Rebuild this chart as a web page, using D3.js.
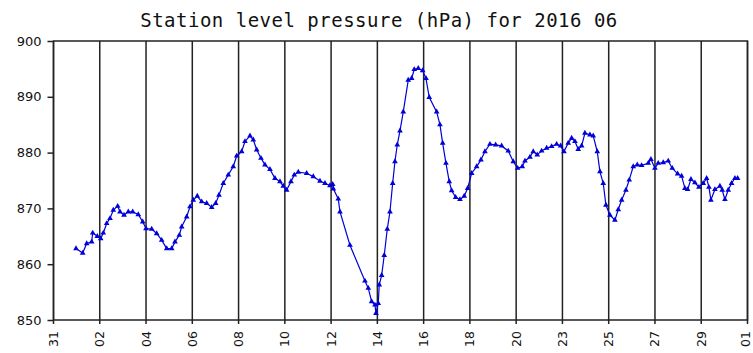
<!DOCTYPE html>
<html>
<head>
<meta charset="utf-8">
<script src="https://cdn.jsdelivr.net/npm/d3@7"></script>
<style>
  body { margin: 0; background: #fff; }
  svg { display: block; }
</style>
</head>
<body>
<svg id="chart" width="753" height="353"></svg>
<script>
// day of June (May 31 00:00 = 0), station pressure in hPa
const day = [1.305, 1.604, 1.783, 2.006, 2.051, 2.256, 2.408, 2.524, 2.676, 2.823, 2.971, 3.167, 3.270,
  3.449, 3.641, 3.837, 4.087, 4.284, 4.431, 4.686, 4.909, 5.133, 5.356, 5.579, 5.727, 5.919, 6.026,
  6.249, 6.397, 6.544, 6.723, 6.919, 7.142, 7.366, 7.544, 7.692, 7.884, 8.107, 8.330, 8.482, 8.705,
  8.853, 9.076, 9.224, 9.376, 9.568, 9.746, 9.969, 10.193, 10.416, 10.564, 10.715, 10.907, 11.055,
  11.233, 11.609, 11.903, 12.203, 12.426, 12.649, 12.770, 12.800, 13.020, 13.096, 13.543, 14.212,
  14.360, 14.512, 14.659, 14.704, 14.806, 14.851, 14.958, 15.074, 15.209, 15.329, 15.450, 15.552,
  15.655, 15.776, 15.923, 16.146, 16.298, 16.414, 16.593, 16.790, 16.937, 17.084, 17.415, 17.562,
  17.683, 17.830, 17.978, 18.085, 18.263, 18.455, 18.647, 18.799, 18.978, 19.201, 19.393, 19.572,
  19.795, 20.050, 20.318, 20.613, 20.836, 21.033, 21.238, 21.359, 21.582, 21.729, 21.908, 22.104,
  22.328, 22.551, 22.774, 22.953, 23.100, 23.292, 23.444, 23.592, 23.739, 23.891, 24.038, 24.262,
  24.409, 24.588, 24.708, 24.856, 24.976, 25.155, 25.378, 25.526, 25.678, 25.870, 26.017, 26.196,
  26.374, 26.571, 26.866, 26.986, 27.165, 27.312, 27.536, 27.759, 27.937, 28.179, 28.357, 28.505,
  28.626, 28.773, 28.951, 29.130, 29.322, 29.474, 29.576, 29.666, 29.844, 30.068, 30.170, 30.291,
  30.439, 30.590, 30.738, 30.859];
const hpa = [862.8, 862.0, 863.7, 864.0, 865.6, 865.0, 864.6, 865.6, 867.3, 868.2, 869.7, 870.4, 869.4,
  868.8, 869.4, 869.4, 868.9, 867.6, 866.4, 866.3, 865.5, 864.3, 862.8, 862.8, 864.0, 865.2, 866.7,
  868.5, 870.3, 871.5, 872.2, 871.2, 870.9, 870.2, 870.9, 872.4, 874.5, 876.0, 877.5, 879.4, 880.2,
  882.0, 883.0, 882.3, 880.5, 879.0, 877.8, 877.0, 875.4, 874.8, 874.0, 873.3, 874.8, 876.0,
  876.5, 876.3, 875.7, 874.9, 874.5, 874.1, 874.3, 873.5, 871.7, 869.4, 863.4, 857.0,
  855.7, 853.3, 852.7, 851.2, 853.0, 856.3, 858.0, 861.6, 866.3, 869.4, 874.5, 878.4,
  881.4, 883.9, 887.3, 893.0, 893.3, 894.9, 895.1, 894.7, 893.3, 889.9, 887.3, 885.0,
  881.7, 878.1, 874.8, 873.2, 872.0, 871.6, 872.2, 873.6, 876.3, 877.5, 878.7, 880.2,
  881.5, 881.4, 881.2, 880.3, 878.4, 877.2, 877.5, 878.5, 879.2, 880.2, 879.6, 880.3,
  880.8, 881.1, 881.5, 881.2, 880.2, 881.7, 882.6, 882.0, 880.6, 881.2, 883.5, 883.2,
  883.0, 880.2, 876.6, 874.5, 870.6, 868.8, 867.9, 869.8, 871.5, 873.3, 875.1, 877.5,
  877.8, 877.7, 878.1, 878.8, 877.2, 878.1, 878.2, 878.5, 877.2, 876.2, 875.8, 873.6,
  873.4, 875.2, 874.6, 873.8, 874.5, 875.4, 873.8, 871.5, 873.4, 874.0, 873.3, 871.6,
  873.3, 874.5, 875.4, 875.4];

const xLabels = ["31", "02", "04", "06", "08", "10", "12", "14", "16", "18", "20", "23", "25", "27", "29", "01"];
const yTicks = [850, 860, 870, 880, 890, 900];
const title = "Station level pressure (hPa) for 2016 06";

const svg = d3.select("#chart");
const plotLeft = 53.5, plotRight = 747.5, plotTop = 41, plotBottom = 320;

const x = d3.scaleLinear().domain([0.3, 31.3]).range([plotLeft, plotRight]);
const y = d3.scaleLinear().domain([850, 900]).range([plotBottom, plotTop]);

// evenly spaced date ticks
const xTickVals = xLabels.map((d, i) => 0.3 + i * 31 / (xLabels.length - 1));

svg.append("text")
  .attr("x", 379).attr("y", 27)
  .attr("text-anchor", "middle")
  .style("font-family", "DejaVu Sans Mono")
  .style("font-size", "19px")
  .style("letter-spacing", "0.5px")
  .attr("fill", "#111")
  .text(title);

// vertical grid lines
svg.append("g")
  .selectAll("line")
  .data(xTickVals)
  .join("line")
  .attr("x1", d => x(d)).attr("x2", d => x(d))
  .attr("y1", plotTop).attr("y2", plotBottom + 4)
  .attr("stroke", "#222").attr("stroke-width", 1.5);

// frame
svg.append("rect")
  .attr("x", plotLeft).attr("y", plotTop)
  .attr("width", plotRight - plotLeft).attr("height", plotBottom - plotTop)
  .attr("fill", "none").attr("stroke", "#222").attr("stroke-width", 1.5);

const yAxis = svg.append("g")
  .attr("transform", `translate(${plotLeft},0)`)
  .call(d3.axisLeft(y).tickValues(yTicks).tickSize(6).tickPadding(6));
yAxis.select(".domain").remove();
yAxis.selectAll("line").attr("stroke", "#222").attr("stroke-width", 1.5);
yAxis.selectAll("text")
  .style("font-family", "DejaVu Sans")
  .style("font-size", "13px")
  .attr("fill", "#111");

const xAxis = svg.append("g")
  .attr("transform", `translate(0,${plotBottom})`)
  .call(d3.axisBottom(x).tickValues(xTickVals).tickFormat((d, i) => xLabels[i]).tickSize(0));
xAxis.select(".domain").remove();
xAxis.selectAll("text")
  .style("font-family", "DejaVu Sans")
  .style("font-size", "12.5px")
  .attr("fill", "#111")
  .attr("text-anchor", "end")
  .attr("transform", "rotate(-90)")
  .attr("x", -11)
  .attr("y", 0)
  .attr("dy", (d, i) => i === xLabels.length - 1 ? "0.12em" : "0.32em");

const pts = day.map((d, i) => [d, hpa[i]]);

svg.append("path")
  .datum(pts)
  .attr("fill", "none")
  .attr("stroke", "#0000d8")
  .attr("stroke-width", 1.2)
  .attr("d", d3.line().x(d => x(d[0])).y(d => y(d[1])));

svg.append("g")
  .selectAll("path")
  .data(pts)
  .join("path")
  .attr("transform", d => `translate(${x(d[0])},${y(d[1])})`)
  .attr("d", d3.symbol(d3.symbolTriangle, 14))
  .attr("fill", "#0000d8");
</script>
</body>
</html>
